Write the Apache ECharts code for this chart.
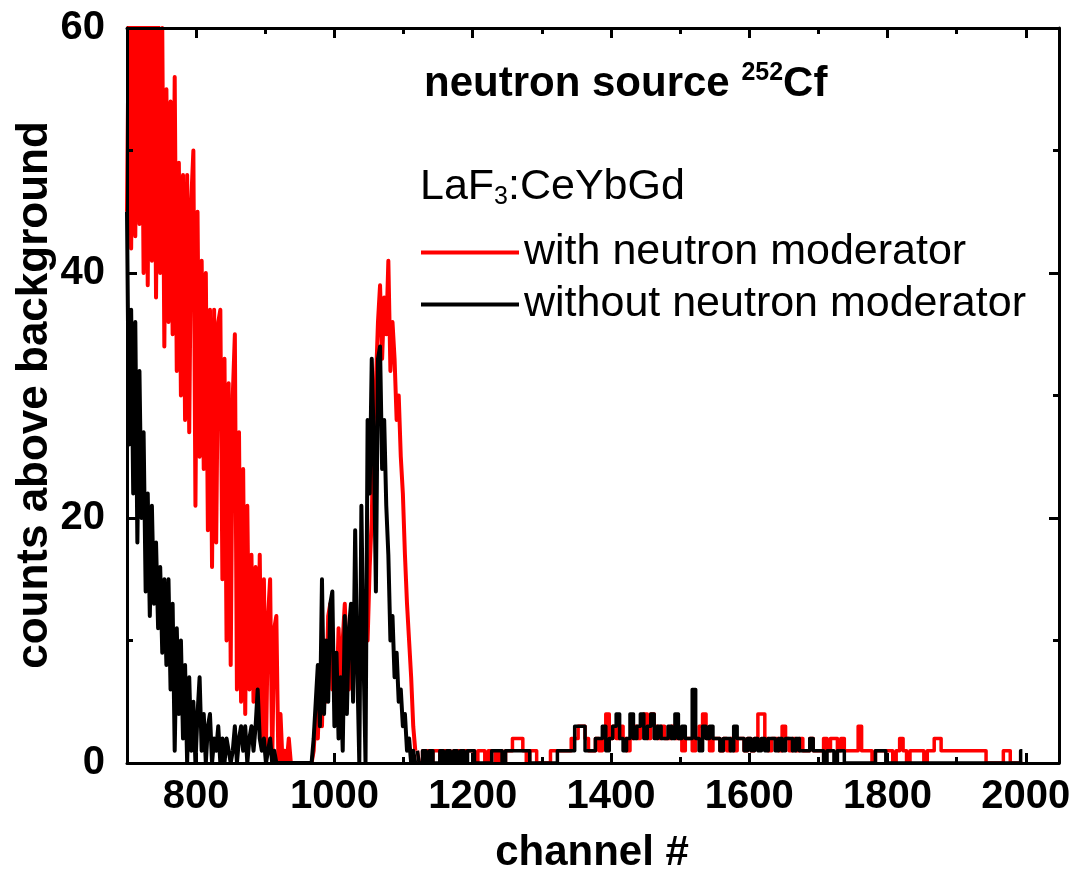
<!DOCTYPE html>
<html>
<head>
<meta charset="utf-8">
<script src="https://cdn.jsdelivr.net/npm/echarts@6/dist/echarts.min.js"></script>
<style>
  html, body { margin: 0; padding: 0; background: #fff; }
  #chart { width: 1076px; height: 877px; }
</style>
</head>
<body>
<div id="chart"></div>
<script>
// dense part: one value every 3 channels from 700 to 1117
const denseStart = 700;
const denseStep = 3;
// tail: one value every 5 channels from 1120 to 1995
const tailStart = 1120;
const tailStep = 5;

// with neutron moderator (red)
const withModeratorDense = [
  45, 64, 42, 63, 43, 65, 44, 62, 40, 64, 39, 63, 41, 62, 38, 61, 40, 60, 34, 55, // 700
  36, 54, 35, 56, 32, 49, 30, 48, 28, 48, 27, 46, 50, 21, 45, 25, 41, 24, 40, 19, // 760
  37, 16, 37, 18, 36, 37, 15, 33, 10, 31, 8, 30, 35, 6, 27, 5, 24, 4, 21, 6,      // 820
  17, 5, 16, 3, 17, 2, 15, 1, 12, 15, 0, 11, 12, 0, 4, 0, 1, 0, 2, 0,             // 880
  0, 0, 0, 0, 0, 0, 0, 0, 0, 0, 1, 4, 2, 7, 3, 10, 5, 12, 13, 6,                  // 940
  9, 5, 11, 7, 10, 13, 8, 6, 10, 12, 8, 11, 9, 13, 10, 12, 10, 16, 20, 28,        // 1000
  31, 36, 39, 33, 38, 35, 41, 32, 36, 33, 28, 30, 25, 22, 17, 13, 10, 7, 3, 1     // 1060
];
const withModeratorTail = [
  1, 0, 1, 1, 0, 1, 1, 0, 1, 1, 0, 1, 1, 0, 1, 1,                                  // 1120
  1, 0, 1, 1, 0, 1, 1, 0, 1, 0, 1, 1, 2, 2, 2, 1, 0, 1, 1, 0,                      // 1200
  0, 0, 0, 1, 1, 1, 1, 1, 1, 2, 2, 3, 3, 2, 1, 1, 2, 1, 2, 4,                      // 1300
  2, 3, 2, 3, 2, 1, 2, 3, 2, 3, 4, 2, 4, 3, 2, 3, 2, 2, 3, 2,                      // 1400
  2, 1, 2, 2, 1, 2, 3, 4, 2, 1, 2, 2, 1, 2, 1, 2, 1, 2, 2, 1,                      // 1500
  2, 1, 2, 4, 4, 2, 1, 2, 2, 1, 3, 2, 1, 2, 1, 2, 1, 1, 2, 1,                      // 1600
  1, 1, 2, 1, 2, 2, 1, 2, 1, 1, 1, 1, 3, 1, 1, 1, 0, 1, 1, 1,                      // 1700
  1, 1, 0, 1, 2, 1, 0, 1, 1, 1, 1, 0, 1, 1, 2, 2, 1, 1, 1, 1,                      // 1800
  1, 1, 1, 1, 1, 1, 1, 1, 1, 0, 0, 0, 0, 0, 1, 1, 0, 0, 0, 0                       // 1900
];

// without neutron moderator (black)
const withoutModeratorDense = [
  45, 26, 37, 22, 36, 18, 32, 20, 27, 14, 22, 12, 21, 13, 18, 11, 16, 9, 15, 8,   // 700
  15, 6, 13, 1, 11, 4, 10, 2, 8, 0, 7, 1, 5, 0, 4, 7, 1, 4, 0, 3,                 // 760
  4, 0, 2, 1, 3, 0, 2, 0, 2, 1, 0, 1, 3, 0, 2, 3, 1, 3, 0, 2,                     // 820
  3, 1, 3, 6, 2, 1, 2, 0, 1, 2, 0, 1, 0, 0, 0, 0, 0, 0, 0, 0,                     // 880
  0, 0, 0, 0, 0, 0, 0, 0, 0, 0, 2, 5, 8, 3, 15, 4, 10, 5, 13, 14,                 // 940
  3, 9, 2, 7, 1, 12, 4, 11, 13, 5, 19, 8, 0, 21, 9, 0, 28, 22, 33, 26,            // 1000
  14, 33, 34, 24, 28, 21, 17, 10, 12, 7, 9, 5, 6, 3, 4, 1, 2, 0, 1, 0             // 1060
];
const withoutModeratorTail = [
  1, 0, 1, 0, 1, 0, 0, 1, 0, 1, 0, 1, 0, 1, 0, 1,                                  // 1120
  1, 0, 0, 0, 0, 0, 1, 1, 1, 0, 1, 1, 1, 1, 1, 1, 1, 0, 0, 0,                      // 1200
  0, 0, 0, 0, 0, 1, 1, 1, 1, 1, 3, 3, 3, 1, 1, 1, 2, 2, 3, 1,                      // 1300
  2, 3, 4, 2, 1, 2, 4, 2, 3, 4, 2, 3, 4, 2, 3, 2, 2, 3, 2, 4,                      // 1400
  2, 3, 2, 2, 6, 2, 1, 3, 2, 3, 2, 2, 1, 2, 2, 1, 3, 2, 2, 1,                      // 1500
  2, 1, 2, 1, 2, 1, 2, 2, 1, 2, 1, 2, 2, 1, 2, 1, 1, 1, 2, 1,                      // 1600
  1, 1, 0, 1, 1, 0, 1, 1, 0, 0, 0, 0, 0, 0, 0, 0, 0, 1, 1, 1,                      // 1700
  0, 0, 0, 0, 0, 0, 0, 0, 0, 0, 0, 0, 0, 0, 0, 0, 0, 0, 0, 0,                      // 1800
  0, 0, 0, 0, 0, 0, 0, 0, 0, 0, 0, 0, 0, 0, 0, 0, 0, 0, 0, 1                       // 1900
];

const xMajorTicks = [800, 1000, 1200, 1400, 1600, 1800, 2000];
const xMinorTicks = [900, 1100, 1300, 1500, 1700, 1900];
const seriesNames = ['with neutron moderator', 'without neutron moderator'];

const FONT = '"Liberation Sans", Arial, sans-serif';

function toPoints(values, start, step) {
  return values.map((v, i) => [start + i * step, v]);
}

const chart = echarts.init(document.getElementById('chart'));

const axisLine = { show: true, lineStyle: { color: '#000', width: 3 } };

function xAxisDef(position, ticks, len, withLine, withLabels) {
  return {
    type: 'value',
    position: position,
    min: 700,
    max: 2048,
    z: 5,
    axisLine: withLine ? axisLine : { show: false },
    axisTick: {
      show: true, inside: true, length: len, customValues: ticks,
      lineStyle: { color: '#000', width: 3 }
    },
    axisLabel: withLabels ? {
      show: true, customValues: ticks, color: '#000', fontSize: 40,
      fontWeight: 'bold', fontFamily: FONT, margin: 14,
      formatter: (v) => String(v)
    } : { show: false },
    splitLine: { show: false }
  };
}

function yAxisDef(position, withLabels) {
  return {
    type: 'value',
    position: position,
    min: 0,
    max: 60,
    interval: 20,
    z: 5,
    axisLine: axisLine,
    axisTick: { show: true, inside: true, length: 10, lineStyle: { color: '#000', width: 3 } },
    minorTick: { show: true, splitNumber: 2, length: 6, lineStyle: { color: '#000', width: 3 } },
    axisLabel: withLabels ? {
      show: true, color: '#000', fontSize: 40, fontWeight: 'bold',
      fontFamily: FONT, margin: 22
    } : { show: false },
    splitLine: { show: false }
  };
}

function lineSeries(name, color, data, z, step, width) {
  return {
    name: name,
    type: 'line',
    xAxisIndex: 0,
    yAxisIndex: 0,
    data: data,
    step: step,
    symbol: 'none',
    color: color,
    lineStyle: { color: color, width: width, join: 'round' },
    z: z
  };
}

const option = {
  animation: false,
  backgroundColor: '#fff',
  textStyle: { fontFamily: FONT },
  grid: { left: 127, right: 17, top: 28, bottom: 114, containLabel: false },
  xAxis: [
    xAxisDef('bottom', xMajorTicks, 10, true, true),
    xAxisDef('bottom', xMinorTicks, 6, false, false),
    xAxisDef('top', xMajorTicks, 10, true, false),
    xAxisDef('top', xMinorTicks, 6, false, false)
  ],
  yAxis: [
    yAxisDef('left', true),
    yAxisDef('right', false)
  ],
  legend: {
    orient: 'vertical',
    left: 416,
    top: 226,
    itemWidth: 98,
    itemHeight: 4,
    itemGap: 9,
    icon: 'rect',
    selectedMode: false,
    data: seriesNames,
    textStyle: { color: '#000', fontSize: 43, fontFamily: FONT }
  },
  graphic: [
    {
      type: 'text', x: 424, y: 84,
      style: {
        text: '{b|neutron source }{s|252}{b|Cf}',
        verticalAlign: 'middle',
        fill: '#000',
        rich: {
          b: { fontSize: 42, fontWeight: 'bold', fontFamily: FONT, fill: '#000', lineHeight: 46 },
          s: { fontSize: 25, fontWeight: 'bold', fontFamily: FONT, fill: '#000', verticalAlign: 'top' }
        }
      }
    },
    {
      type: 'text', x: 420, y: 187,
      style: {
        text: '{a|LaF}{u|3}{a|:CeYbGd}',
        verticalAlign: 'middle',
        fill: '#000',
        rich: {
          a: { fontSize: 43, fontFamily: FONT, fill: '#000', lineHeight: 46 },
          u: { fontSize: 25, fontFamily: FONT, fill: '#000', verticalAlign: 'bottom' }
        }
      }
    },
    {
      type: 'text', x: 592, y: 853,
      style: {
        text: 'channel #', fill: '#000', align: 'center', verticalAlign: 'middle',
        font: 'bold 42px ' + FONT
      }
    },
    {
      type: 'text', x: 35, y: 395, rotation: Math.PI / 2,
      style: {
        text: 'counts above background', fill: '#000', align: 'center', verticalAlign: 'middle',
        font: 'bold 44px ' + FONT
      }
    }
  ],
  series: [
    lineSeries(seriesNames[0], '#ff0000', toPoints(withModeratorDense, denseStart, denseStep), 2, false, 4),
    lineSeries(seriesNames[0], '#ff0000', toPoints(withModeratorTail, tailStart, tailStep), 2, 'middle', 3.5),
    lineSeries(seriesNames[1], '#000000', toPoints(withoutModeratorDense, denseStart, denseStep), 3, false, 4),
    lineSeries(seriesNames[1], '#000000', toPoints(withoutModeratorTail, tailStart, tailStep), 3, 'middle', 3.5)
  ]
};

chart.setOption(option);
</script>
</body>
</html>
